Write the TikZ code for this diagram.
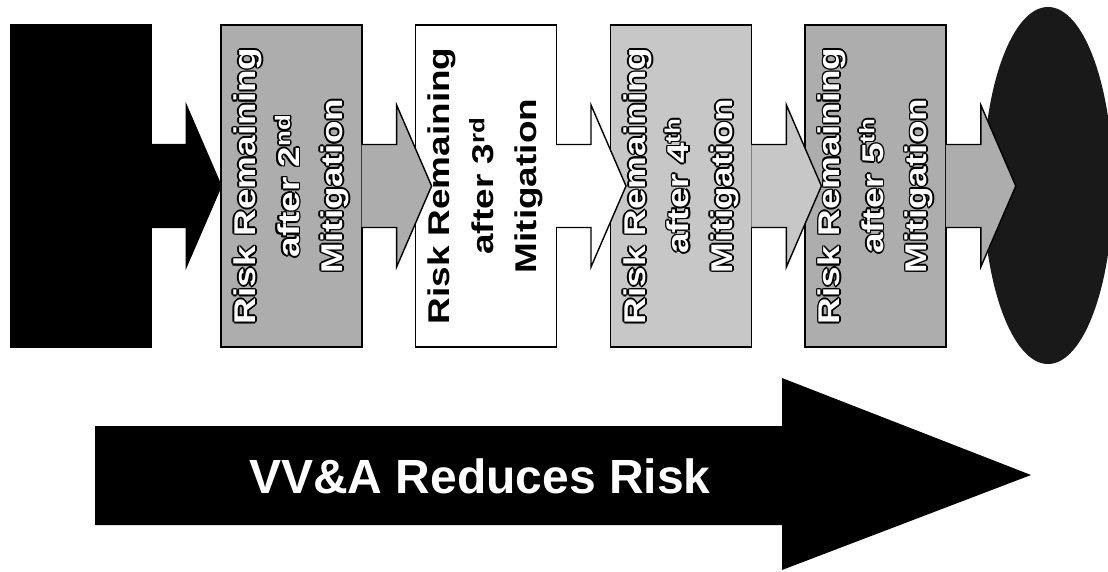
\documentclass[tikz,border=0pt]{standalone}
\usepackage{fontspec}
\setsansfont{Liberation Sans}
\usetikzlibrary{calc,positioning,shapes.geometric}
\definecolor{boxgrey}{gray}{0.68}
\definecolor{palegrey}{gray}{0.78}
\definecolor{goalgrey}{gray}{0.10}
\tikzset{%
	riskbox/.style   = {draw, line width=1.4pt, rectangle, minimum width=141pt, minimum height=322pt, inner sep=0pt},
	risktext/.style  = {font=\sffamily\bfseries\fontsize{30}{43.5}\selectfont, align=center, rotate=90, xscale=1.23, inner sep=0pt},
	flowarrow/.style = {line width=1.4pt, line join=miter},
	goal/.style      = {ellipse, fill=goalgrey, minimum width=130pt, minimum height=357pt, inner sep=0pt},
}
% block arrow leaving the east side of a box
\newcommand{\riskarrow}[2]{%
	\filldraw[flowarrow, fill=#2] ($(#1.east)+(-1,41.5)$) -- ++(35,0) -- ++(0,39.5) -- ++(35,-81) -- ++(-35,-81) -- ++(0,39.5) -- ++(-35,0);
}
\begin{document}
\begin{tikzpicture}[x=1pt,y=1pt]
	\useasboundingbox (0,0) rectangle (1108,571);
	% boxes
	\node[riskbox, fill=black] (b1) at (81,385) {};
	\node[riskbox, fill=boxgrey, right=68pt of b1] (b2) {};
	\node[riskbox, fill=white, right=52pt of b2] (b3) {};
	\node[riskbox, fill=palegrey, right=53pt of b3] (b4) {};
	\node[riskbox, fill=boxgrey, right=52pt of b4] (b5) {};
	\node[goal] (end) at (1048,385.5) {};
	% labels, white with a dark rim on the grey boxes
	\foreach \b/\num/\suf in {b2/2/nd, b4/4/th, b5/5/th} {
		\foreach \dx/\dy in {1.6/0, -1.6/0, 0/1.6, 0/-1.6, 1.1/1.1, -1.1/1.1, 1.1/-1.1, -1.1/-1.1}
			\node[risktext, black] at ($(\b.center)+(\dx,\dy)$) {Risk Remaining\\after \num\textsuperscript{\suf}\\Mitigation};
		\node[risktext, white] (\b-text) at (\b.center) {Risk Remaining\\after \num\textsuperscript{\suf}\\Mitigation};
	}
	\node[risktext, black] (b3-text) at (b3.center) {Risk Remaining\\after 3\textsuperscript{rd}\\Mitigation};
	% arrows between the boxes
	\riskarrow{b1}{black}
	\riskarrow{b2}{boxgrey}
	\riskarrow{b3}{white}
	\riskarrow{b4}{palegrey}
	\riskarrow{b5}{boxgrey}
	% big arrow
	\fill (95,145) -- (782,145) -- (782,193) -- (1031,96) -- (782,1) -- (782,46) -- (95,46) -- cycle;
	\node[font=\sffamily\bfseries\fontsize{48}{56}\selectfont, text=white, inner sep=0pt] (vva) at (480,94.5) {VV\&A Reduces Risk};
\end{tikzpicture}
\end{document}
